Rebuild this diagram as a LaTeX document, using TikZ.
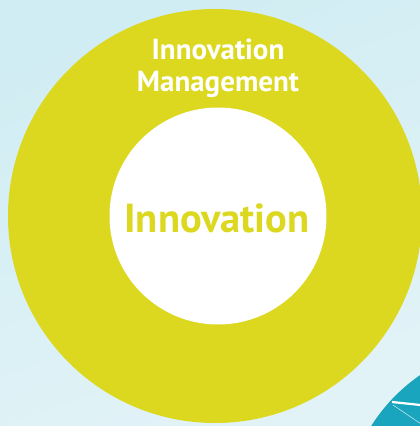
\documentclass[tikz,border=0pt]{standalone}
\usepackage{fontspec}
\setmainfont{PT Sans}
\definecolor{ringyellow}{HTML}{DCD81F}
\definecolor{bgtop}{HTML}{D0EDF3}
\definecolor{bgbot}{HTML}{E2F3F7}
\definecolor{teal}{HTML}{1AA5BF}
\tikzset{
  ringtext/.style={text=white, font=\bfseries\fontsize{29}{32}\selectfont, align=center},
  coretext/.style={text=ringyellow, font=\bfseries\fontsize{40.5}{46}\selectfont}
}
\begin{document}
\begin{tikzpicture}[x=1pt,y=-1pt]
  \useasboundingbox (0,0) rectangle (420,426);
  \shade[top color=bgtop, bottom color=bgbot, shading angle=20] (0,0) rectangle (420,426);
  \begin{scope}
    \clip (0,0) rectangle (420,426);
    \fill[teal] (520,520) circle (176);
    \draw[white, line width=2.2pt] (392,402) -- (430,406);
    \draw[white!70!teal, line width=0.6pt] (393,405) -- (430,430);
    \fill[ringyellow] (215,216) circle (207);
    \fill[white] (218,216) circle (108.5);
  \end{scope}
  \node[ringtext] (outer) at (218,68.5) {Innovation\\Management};
  \node[coretext] (inner) at (217,218) {Innovation};
\end{tikzpicture}
\end{document}
